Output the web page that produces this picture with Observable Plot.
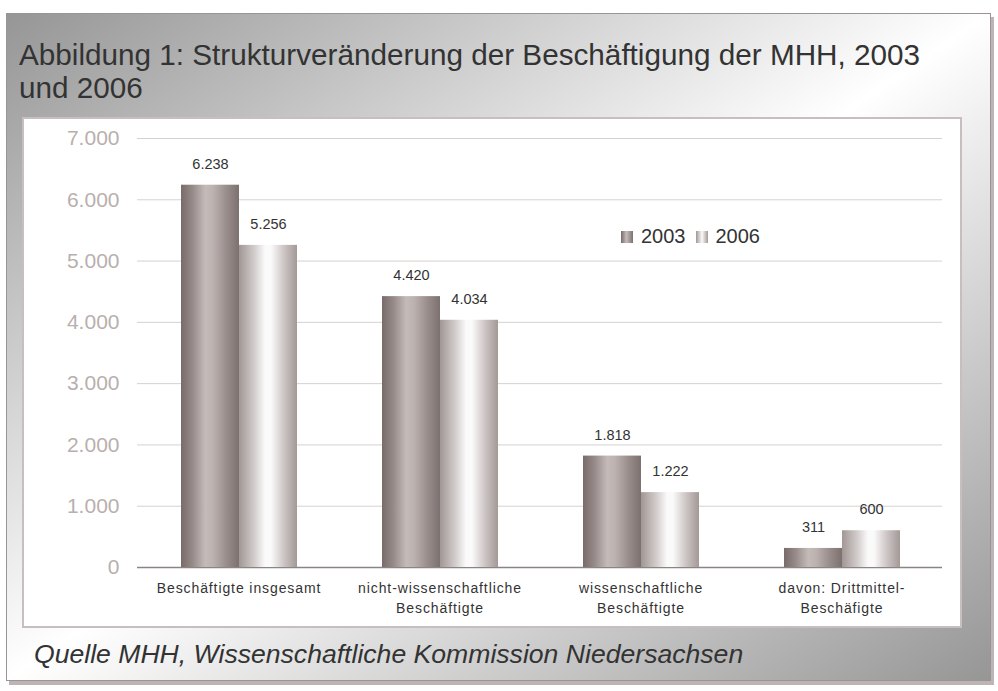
<!DOCTYPE html>
<html>
<head>
<meta charset="utf-8">
<script src="https://cdn.jsdelivr.net/npm/d3@7"></script>
<script src="https://cdn.jsdelivr.net/npm/@observablehq/plot@0.6"></script>
<style>
  html, body { margin: 0; padding: 0; background: #ffffff; }
  body { width: 998px; height: 691px; position: relative; overflow: hidden; font-family: "Liberation Sans", Arial, sans-serif; }
  #panel { position: absolute; left: 6px; top: 13px; width: 985px; height: 668px; box-sizing: border-box;
    border: 1px solid #9c9494;
    background: linear-gradient(to bottom right, #969696 0%, #ffffff 50%, #969696 100%);
    box-shadow: 3px 4px 0 #bdb5b5; }
  #title { position: absolute; left: 19px; top: 38px; font-size: 29.7px; line-height: 33px; color: #333; width: 975px; white-space: nowrap; }
  #box { position: absolute; left: 22px; top: 117px; width: 940px; height: 511px; box-sizing: border-box; border: 2px solid #c8bebe; background: #fff; }
  #box svg { position: absolute; left: 0; top: 0; }
  #legend { position: absolute; left: 597px; top: 106px; font-size: 20px; color: #333; display: flex; align-items: center; white-space: nowrap; }
  .sw { display: inline-block; width: 12px; height: 12px; margin-right: 8px; }
  #caption { position: absolute; left: 34px; top: 639px; font-size: 26.6px; font-style: italic; color: #333; white-space: nowrap; }
</style>
</head>
<body>
<div id="panel"></div>
<div id="title">Abbildung 1: Strukturveränderung der Beschäftigung der MHH, 2003<br>und 2006</div>
<div id="box"></div>
<div id="caption">Quelle MHH, Wissenschaftliche Kommission Niedersachsen</div>
<script>
const categories = ["Beschäftigte insgesamt", "nicht-wissenschaftliche\nBeschäftigte", "wissenschaftliche\nBeschäftigte", "davon: Drittmittel-\nBeschäfigte"];
const years = ["2003", "2006"];
const values2003 = [6238, 4420, 1818, 311];
const values2006 = [5256, 4034, 1222, 600];
const yTicks = [0, 1000, 2000, 3000, 4000, 5000, 6000, 7000];

const de = d3.formatLocale({decimal: ",", thousands: ".", grouping: [3], currency: ["", " €"]});
const fmt = de.format(",d");

const data = [];
categories.forEach((c, i) => {
  data.push({category: c, year: "2003", value: values2003[i]});
  data.push({category: c, year: "2006", value: values2006[i]});
});

const W = 936, H = 507;
const margins = {marginLeft: 113, marginRight: 18, marginTop: 19, marginBottom: 59};
const yScale = {domain: [0, 7000]};

// background layer: grid lines and y axis
const bg = Plot.plot({
  width: W, height: H, ...margins,
  style: {background: "transparent", fontFamily: "Liberation Sans, Arial, sans-serif"},
  y: yScale,
  x: {axis: null},
  marks: [
    Plot.ruleY(yTicks.filter(d => d > 0), {stroke: "#d8d0d0", strokeWidth: 1}),
    Plot.axisY(yTicks, {tickSize: 0, tickPadding: 18, tickFormat: fmt, fontSize: 21, fill: "#b9afae", label: null}),
    Plot.ruleY([0], {stroke: "#8a8484", strokeWidth: 1.5})
  ]
});

// foreground layer: bars, value labels, category axis
const fg = Plot.plot({
  width: W, height: H, ...margins,
  style: {background: "transparent", fontFamily: "Liberation Sans, Arial, sans-serif", color: "#333"},
  y: {...yScale, axis: null},
  fx: {domain: categories, paddingInner: 0.42, paddingOuter: 0.21, axis: null},
  x: {domain: years, padding: 0, axis: null},
  marks: [
    Plot.barY(data, {fx: "category", x: "year", y: "value", fill: d => d.year === "2003" ? "url(#g2003)" : "url(#g2006)"}),
    Plot.text(data, {fx: "category", x: "year", y: "value", text: d => fmt(d.value), dy: -21, fontSize: 14.5, fill: "#333"}),
    Plot.axisFx({anchor: "bottom", tickSize: 0, tickPadding: 11, fontSize: 14, lineHeight: 1.43, fill: "#333", label: null})
  ]
});

const defs = `<defs>
<linearGradient id="g2003" x1="0" x2="1" y1="0" y2="0">
  <stop offset="0" stop-color="#786b6a"/>
  <stop offset="0.2" stop-color="#978b8a"/>
  <stop offset="0.42" stop-color="#c4bbb9"/>
  <stop offset="0.55" stop-color="#bcb2b0"/>
  <stop offset="0.8" stop-color="#978b8a"/>
  <stop offset="1" stop-color="#7d7170"/>
</linearGradient>
<linearGradient id="g2006" x1="0" x2="1" y1="0" y2="0">
  <stop offset="0" stop-color="#a19795"/>
  <stop offset="0.25" stop-color="#cfc9c8"/>
  <stop offset="0.45" stop-color="#fbfafa"/>
  <stop offset="0.55" stop-color="#fbfafa"/>
  <stop offset="0.78" stop-color="#cbc4c3"/>
  <stop offset="1" stop-color="#a39997"/>
</linearGradient></defs>`;
fg.insertAdjacentHTML("afterbegin", defs);
// slight letter spacing on category labels, as in the reference
fg.querySelectorAll('g[aria-label="fx-axis tick label"] text').forEach(t => t.setAttribute("letter-spacing", "0.9"));

const box = document.getElementById("box");
box.appendChild(bg);
box.appendChild(fg);

const legend = document.createElement("div");
legend.id = "legend";
legend.innerHTML = `<span class="sw" style="background:linear-gradient(to right,#786b6a,#c4bbb9 45%,#7d7170)"></span><span style="margin-right:10px">${years[0]}</span><span class="sw" style="background:linear-gradient(to right,#a19795,#fbfafa 50%,#a39997)"></span><span>${years[1]}</span>`;
box.appendChild(legend);
</script>
</body>
</html>
